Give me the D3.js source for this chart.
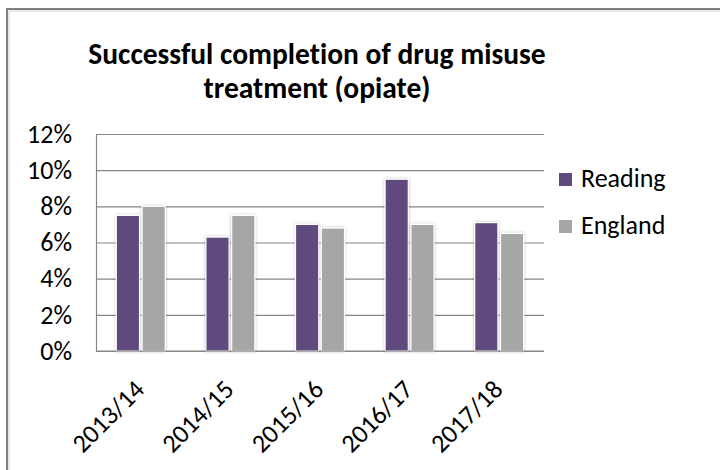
<!DOCTYPE html>
<html>
<head>
<meta charset="utf-8">
<script src="https://cdn.jsdelivr.net/npm/d3@7"></script>
<style>
  html, body { margin: 0; padding: 0; background: #fff; }
  svg { display: block; font-family: Carlito, Lato, "Liberation Sans", sans-serif; font-variant-ligatures: none; }
</style>
</head>
<body>
<svg id="chart" width="720" height="470"></svg>
<script>
// Successful completion of drug misuse treatment (opiate), Reading vs England
const years = ["2013/14", "2014/15", "2015/16", "2016/17", "2017/18"];
const seriesNames = ["Reading", "England"];
const reading = [0.075, 0.063, 0.070, 0.095, 0.071];
const england = [0.080, 0.075, 0.068, 0.070, 0.065];
const yTicks = [0, 0.02, 0.04, 0.06, 0.08, 0.10, 0.12];
const titleLines = ["Successful completion of drug misuse", "treatment (opiate)"];
const colors = ["#604a7b", "#a6a6a6"];

const svg = d3.select("#chart");
const W = 720, H = 470;
const plot = { left: 96, right: 544, top: 134, bottom: 351 };

// frame of the chart object (top and left edges)
svg.append("path")
  .attr("d", `M7,${H} V9 H${W}`)
  .attr("fill", "none").attr("stroke", "#7f7f7f").attr("stroke-width", 2);
svg.append("path")
  .attr("d", `M9,${H} V11 H${W}`)
  .attr("fill", "none").attr("stroke", "#d0d0d0").attr("stroke-width", 1);

// title
svg.append("text")
  .attr("x", 317).attr("y", 64)
  .attr("text-anchor", "middle")
  .attr("font-weight", "bold").attr("font-size", 29.5).attr("fill", "#000")
  .selectAll("tspan").data(titleLines).join("tspan")
  .attr("x", 317).attr("dy", (d, i) => i === 0 ? 0 : 34)
  .text(d => d);

const x0 = d3.scaleBand().domain(years).range([plot.left, plot.right]).padding(0);
const groupW = 49;
const x1 = d3.scaleBand().domain(seriesNames)
  .range([(x0.bandwidth() - groupW) / 2, (x0.bandwidth() + groupW) / 2])
  .paddingInner(0.1);
const y = d3.scaleLinear().domain([0, 0.12]).range([plot.bottom, plot.top]);

// gridlines
svg.append("g")
  .attr("transform", `translate(${plot.left},0)`)
  .call(d3.axisLeft(y).tickValues(yTicks).tickSize(-(plot.right - plot.left)).tickFormat(""))
  .call(g => g.select(".domain").remove())
  .call(g => g.selectAll("line").attr("stroke", "#868686").attr("stroke-width", 1.2));

// y tick labels
svg.append("g")
  .attr("transform", `translate(${plot.left},0)`)
  .call(d3.axisLeft(y).tickValues(yTicks).tickSize(0).tickPadding(24).tickFormat(d3.format(".0%")))
  .call(g => g.select(".domain").attr("stroke", "#868686").attr("stroke-width", 1.2))
  .call(g => g.selectAll("text").attr("font-size", 26).attr("fill", "#000")
    .attr("font-family", "Carlito, Lato, sans-serif"));

// bar shadow
const defs = svg.append("defs");
const f = defs.append("filter").attr("id", "sh")
  .attr("x", "-30%").attr("y", "-10%").attr("width", "160%").attr("height", "120%");
f.append("feDropShadow").attr("dx", 0).attr("dy", 0).attr("stdDeviation", 1.6)
  .attr("flood-color", "#000").attr("flood-opacity", 0.28);

const rows = years.map((yr, i) => ({ yr, vals: [reading[i], england[i]] }));
const groups = svg.append("g").selectAll("g").data(rows).join("g")
  .attr("transform", d => `translate(${x0(d.yr)},0)`);
groups.selectAll("rect")
  .data(d => d.vals.map((v, j) => ({ name: seriesNames[j], v, j })))
  .join("rect")
  .attr("x", d => x1(d.name))
  .attr("width", x1.bandwidth())
  .attr("y", d => y(d.v))
  .attr("height", d => y(0) - y(d.v))
  .attr("fill", d => colors[d.j])
  .attr("stroke", "#fff").attr("stroke-width", 1.2)
  .attr("filter", "url(#sh)");

// baseline
svg.append("line")
  .attr("x1", plot.left).attr("x2", plot.right)
  .attr("y1", plot.bottom).attr("y2", plot.bottom)
  .attr("stroke", "#868686").attr("stroke-width", 1.2);

// x labels, rotated
svg.append("g").selectAll("text").data(years).join("text")
  .attr("transform", d => `translate(${x0(d) + x0.bandwidth() / 2 + 5},${plot.bottom + 40}) rotate(-45)`)
  .attr("text-anchor", "end")
  .attr("font-size", 26).attr("fill", "#000")
  .text(d => d);

// legend
const leg = svg.append("g").selectAll("g").data(seriesNames).join("g")
  .attr("transform", (d, i) => `translate(559,${173 + i * 47})`);
leg.append("rect").attr("width", 13).attr("height", 13)
  .attr("fill", (d, i) => colors[i]);
leg.append("text").attr("x", 22).attr("y", 14)
  .attr("font-size", 26).attr("fill", "#000")
  .text(d => d);
</script>
</body>
</html>
